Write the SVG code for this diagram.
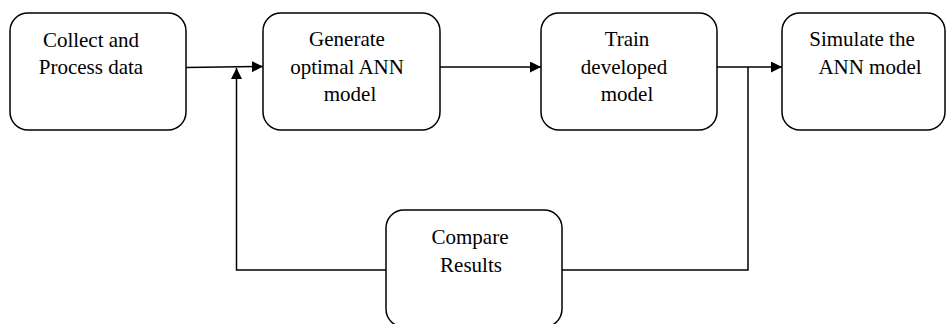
<svg xmlns="http://www.w3.org/2000/svg" width="946" height="324" viewBox="0 0 946 324">
  <style>
    .box { fill: #ffffff; stroke: #000000; stroke-width: 1.5; }
    .lbl { font-family: "Liberation Serif", "Times New Roman", serif; font-size: 21px; fill: #000000; text-anchor: middle; }
    .conn { fill: none; stroke: #000000; stroke-width: 1.5; }
  </style>
  <defs>
    <marker id="arrow" markerUnits="userSpaceOnUse" markerWidth="12" markerHeight="12" refX="11" refY="5.5" orient="auto">
      <path d="M0,0 L11,5.5 L0,11 Z" fill="#000000"/>
    </marker>
  </defs>
  <rect width="946" height="324" fill="#ffffff"/>

  <g id="connectors">
    <path class="conn" d="M186,67.5 L263,66.5" marker-end="url(#arrow)"/>
    <path class="conn" d="M440,67 L541,67" marker-end="url(#arrow)"/>
    <path class="conn" d="M717,67 L782,67" marker-end="url(#arrow)"/>
    <path class="conn" d="M748,67 L748,270 L562,270"/>
    <path class="conn" d="M386,270 L236.5,270 L236.5,68" marker-end="url(#arrow)"/>
  </g>

  <g id="collect">
    <rect class="box" x="10" y="13" width="176" height="117" rx="18" ry="18"/>
    <text class="lbl" x="91" y="46.5">Collect and</text>
    <text class="lbl" x="91" y="74">Process data</text>
  </g>

  <g id="generate">
    <rect class="box" x="263" y="13" width="177" height="117" rx="18" ry="18"/>
    <text class="lbl" x="347" y="46">Generate</text>
    <text class="lbl" x="347" y="73.5">optimal ANN</text>
    <text class="lbl" x="350" y="101">model</text>
  </g>

  <g id="train">
    <rect class="box" x="541" y="13" width="176" height="117" rx="18" ry="18"/>
    <text class="lbl" x="627" y="46">Train</text>
    <text class="lbl" x="624" y="73.5">developed</text>
    <text class="lbl" x="627" y="101">model</text>
  </g>

  <g id="simulate">
    <rect class="box" x="782" y="13" width="163" height="117" rx="18" ry="18"/>
    <text class="lbl" x="862" y="46">Simulate the</text>
    <text class="lbl" x="870" y="73.5">ANN model</text>
  </g>

  <g id="compare">
    <rect class="box" x="386" y="210" width="176" height="117" rx="18" ry="18"/>
    <text class="lbl" x="470" y="243.5">Compare</text>
    <text class="lbl" x="471" y="271.5">Results</text>
  </g>
</svg>
